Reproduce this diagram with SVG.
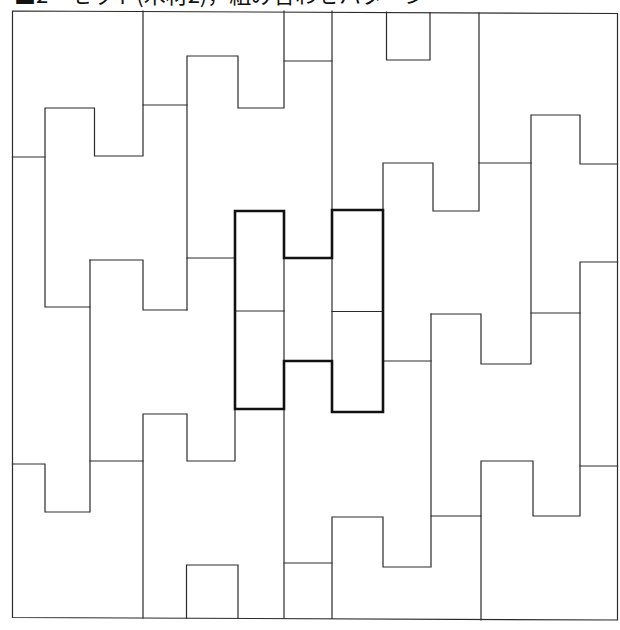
<svg xmlns="http://www.w3.org/2000/svg" width="620" height="630" viewBox="0 0 620 630">
<style>
.thin{fill:none;stroke:#2a2a2a;stroke-width:1.2;stroke-linejoin:miter;stroke-linecap:square}
.bold{fill:none;stroke:#111;stroke-width:2.6;stroke-linejoin:miter}
.title{font-family:"Noto Sans CJK JP","Noto Sans CJK SC",sans-serif;font-size:22px;fill:#111}
</style>
<rect width="620" height="630" fill="#fff"/>
<g id="title">
<text class="title" x="14" y="2.5">■2　セット(木材2)，組み合わせパターン</text>
</g>
<g id="frame">
<path class="thin" d="M12.5,11 L617.5,13.5 L617.5,620 L12.5,617.5 Z"/>
</g>
<g id="tiling">
<path class="thin" d="M143,11 V156 H94.5 V108 H45 V307 H90"/>
<path class="thin" d="M90,260 V512 H45 V464 H12.5"/>
<path class="thin" d="M12.5,157 H45"/>
<path class="thin" d="M90,260 H143 V310 H187"/>
<path class="thin" d="M143,105 H187"/>
<path class="thin" d="M187,310 V56 H238 V108 H284 V11"/>
<path class="thin" d="M284,61 H332"/>
<path class="thin" d="M332,11 V210"/>
<path class="thin" d="M386.5,12 V60 H430 V12.5"/>
<path class="thin" d="M479,13 V211 H433 V163 H383 V210"/>
<path class="thin" d="M479,163 H531"/>
<path class="thin" d="M617.5,164 H580 V115 H531 V364 H481 V314 H431"/>
<path class="thin" d="M531,313 H580"/>
<path class="thin" d="M617.5,262 H580 V516 H533 V461 H481 V620"/>
<path class="thin" d="M580,466 H617.5"/>
<path class="thin" d="M431,314 V567 H383 V517 H332 V618.5"/>
<path class="thin" d="M431,516 H481"/>
<path class="thin" d="M383,361 H431"/>
<path class="thin" d="M284,409 V618"/>
<path class="thin" d="M284,563 H332"/>
<path class="thin" d="M186.5,618 V565 H238 V618"/>
<path class="thin" d="M143,618 V414 H187 V461 H235 V409"/>
<path class="thin" d="M90,461 H143"/>
<path class="thin" d="M187,258 H235"/>
<path class="thin" d="M235,311 H284"/>
<path class="thin" d="M332,311.5 H383"/>
<path class="thin" d="M284,258 V361"/>
<path class="thin" d="M332,258 V361"/>
</g>
<g id="highlight">
<path class="bold" d="M235,211 H284 V258 H332 V210 H383 V412 H332 V361 H284 V409 H235 Z"/>
</g>
</svg>
